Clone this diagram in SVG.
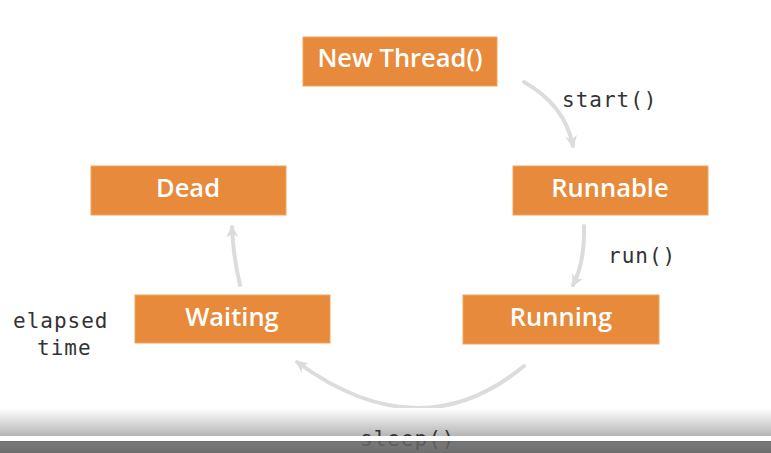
<svg xmlns="http://www.w3.org/2000/svg" width="771" height="453" viewBox="0 0 771 453">
<style>
.box{fill:#E78A3B;stroke:#F0A55E;stroke-width:1}
.lbl{font-family:"Open Sans",Lato,sans-serif;font-size:25.5px;font-weight:600;fill:#fff;text-anchor:middle;font-variant-ligatures:none}
.code{font-family:"DejaVu Sans Mono","Liberation Mono",monospace;font-size:21px;fill:#333;letter-spacing:1px}
.conn{fill:none;stroke:#DCDCDC;stroke-width:4;stroke-linecap:round}
</style>
<defs>
<marker id="ah" viewBox="0 0 12 12" refX="10" refY="6" markerWidth="12" markerHeight="12" markerUnits="userSpaceOnUse" orient="auto">
<path d="M0,0 L12,6 L0,12 L3,6 Z" fill="#DCDCDC"/>
</marker>
<linearGradient id="fade" x1="0" y1="0" x2="0" y2="1">
<stop offset="0" stop-color="#ffffff"/>
<stop offset="1" stop-color="#b5b5b5"/>
</linearGradient>
<linearGradient id="dark" x1="0" y1="0" x2="0" y2="1">
<stop offset="0" stop-color="#555"/>
<stop offset="0.15" stop-color="#666"/>
<stop offset="1" stop-color="#5a5a5a"/>
</linearGradient>
</defs>
<rect x="0" y="0" width="771" height="453" fill="#fff"/>
<g id="connectors">
<path class="conn" d="M524,82 Q565,105 573,146" marker-end="url(#ah)"/>
<path class="conn" d="M584,226 Q585,262 573,285" marker-end="url(#ah)"/>
<path class="conn" d="M524,366 Q420,452 297,362" marker-end="url(#ah)"/>
<path class="conn" d="M240,285 Q233,255 232,227" marker-end="url(#ah)"/>
</g>
<g id="n-new"><rect class="box" x="303" y="37" width="194" height="49"/><text class="lbl" x="400" y="67">New Thread()</text></g>
<g id="n-runnable"><rect class="box" x="513" y="166" width="195" height="49"/><text class="lbl" x="610" y="197">Runnable</text></g>
<g id="n-dead"><rect class="box" x="91" y="166" width="195" height="49"/><text class="lbl" x="188" y="197">Dead</text></g>
<g id="n-waiting"><rect class="box" x="135" y="295" width="195" height="48"/><text class="lbl" x="232" y="326">Waiting</text></g>
<g id="n-running"><rect class="box" x="463" y="295" width="196" height="49"/><text class="lbl" x="561" y="326">Running</text></g>
<g id="labels">
<text class="code" x="562" y="107">start()</text>
<text class="code" x="608" y="263">run()</text>
<text class="code" x="13" y="328">elapsed</text>
<text class="code" x="37" y="355">time</text>
</g>
<rect x="0" y="408" width="771" height="28" fill="url(#fade)"/>
<text class="code" x="360" y="446">sleep()</text>
<rect x="0" y="436" width="771" height="5" fill="#fff"/>
<rect x="0" y="441" width="771" height="12" fill="url(#dark)" opacity="0.88"/>
</svg>
